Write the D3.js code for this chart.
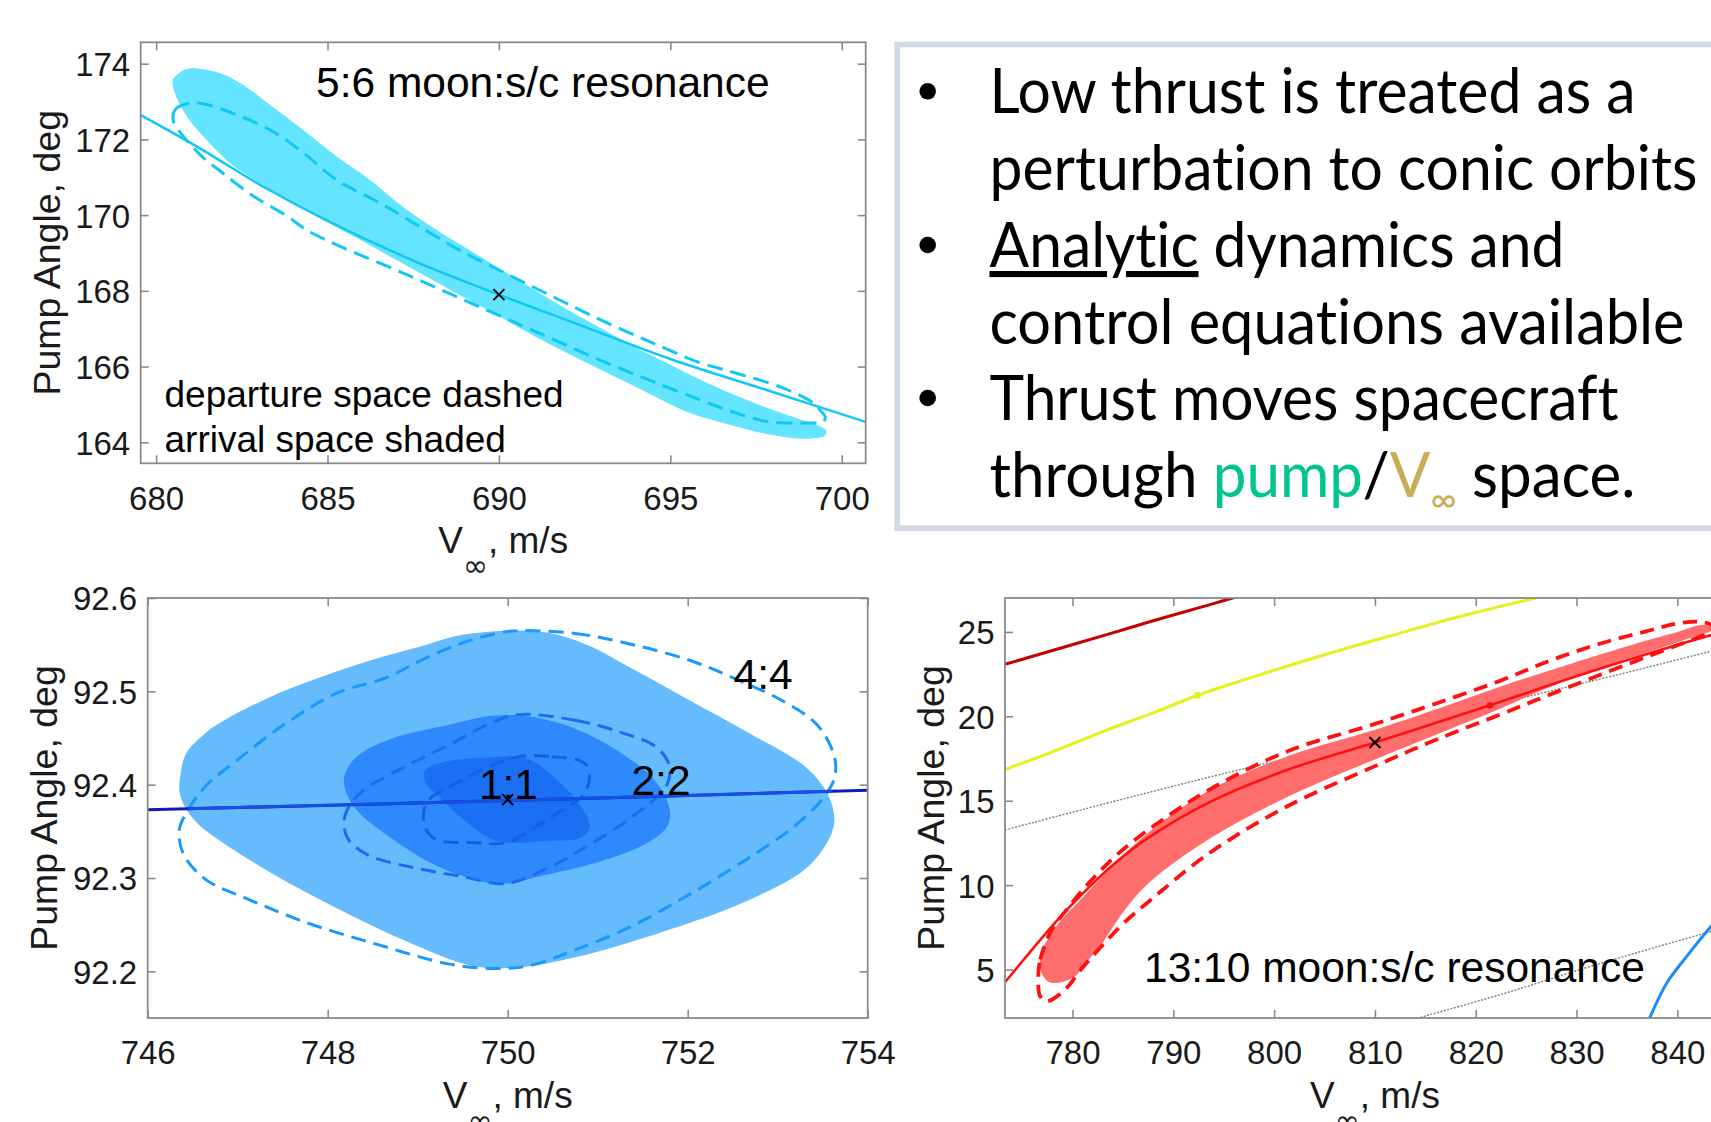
<!DOCTYPE html>
<html>
<head>
<meta charset="utf-8">
<script src="https://cdn.jsdelivr.net/npm/d3@7"></script>
<style>
  html, body { margin: 0; padding: 0; background: #ffffff; overflow: hidden; }
  svg { display: block; }
  #notes text { font-variant-ligatures: none; font-feature-settings: "liga" 0, "clig" 0; }
</style>
</head>
<body>
<svg id="fig" width="1711" height="1122"></svg>
<script>
// ---------------------------------------------------------------------------
// 5:6 moon:s/c resonance  (V-infinity [m/s], pump angle [deg])
// ---------------------------------------------------------------------------
const res56Arrival = [
  [680.49,173.57],[680.75,173.8],[680.99,173.88],[681.87,173.75],[682.54,173.44],
  [683.33,172.91],[684.29,172.25],[685.28,171.54],[686.24,170.93],[687.2,170.22],
  [688.2,169.6],[689.1,169.1],[690,168.6],[691,168.05],[692,167.5],[693,167.0],
  [694,166.5],[695,166.05],[696,165.6],[697,165.2],[698,164.85],[698.8,164.6],
  [699.3,164.45],[699.55,164.3],[699.5,164.17],[699.1,164.1],[698.5,164.12],
  [697.5,164.28],[696.5,164.52],[695.5,164.8],[694,165.46],[693,165.9],[692,166.35],
  [691,166.82],[690,167.33],[689,167.82],[688,168.32],[687,168.82],[686,169.32],
  [685,169.82],[684,170.3],[683.03,170.84],[682.16,171.37],[681.48,171.98],
  [680.9,172.6],[680.55,173.22]
];
const res56Departure = [
  [680.5,172.5],[680.55,172.78],[680.9,172.94],[681.37,172.94],[682.35,172.65],
  [683.33,172.25],[684.3,171.64],[685.27,170.93],[686.53,170.32],[687.5,169.8],
  [688.7,169.15],[690,168.55],[691.5,167.88],[693,167.22],[694.5,166.62],
  [695.87,166.1],[696.83,165.85],[698.3,165.43],[699.17,165.04],[699.37,164.85],
  [699.52,164.67],[699.46,164.54],[699.22,164.51],[698.79,164.51],[697.82,164.55],
  [696.83,164.8],[695.87,165.12],[694.5,165.6],[693,166.15],[691.5,166.75],
  [690,167.35],[688.5,167.95],[687,168.55],[685.3,169.2],[684.4,169.6],
  [683.81,169.98],[682.84,170.5],[681.96,171.1],[681.28,171.6],[680.65,172.25]
];
const res56Nominal = [
  [679.55,172.64],[681.19,171.81],[683.13,170.75],[685,169.85],[687.5,168.8],
  [690,167.9],[692.5,167.05],[695,166.2],[697.81,165.38],[700.7,164.54]
];
const res56Centre = [690, 167.9];
const res56XTicks = [680, 685, 690, 695, 700];
const res56YTicks = [164, 166, 168, 170, 172, 174];

// ---------------------------------------------------------------------------
// 1:1, 2:2 and 4:4 resonances
// ---------------------------------------------------------------------------
const res44Arrival = [
  [746.365,92.411],[746.43,92.434],[746.65,92.456],[746.8,92.466],[747.36,92.494],
  [747.92,92.515],[748.47,92.533],[749.03,92.548],[749.47,92.560],[749.98,92.565],
  [750.43,92.563],[750.88,92.550],[751.39,92.524],[752.03,92.490],[752.67,92.456],
  [753.31,92.419],[753.56,92.389],[753.63,92.362],[753.56,92.340],[753.31,92.310],
  [752.67,92.276],[751.71,92.242],[750.75,92.215],[750.11,92.204],[749.6,92.206],
  [748.83,92.234],[747.87,92.279],[747.04,92.325],[746.52,92.362],[746.36,92.389]
];
const res44Departure = [
  [750.11,92.565],[750.75,92.562],[751.39,92.550],[752.03,92.533],[752.54,92.513],
  [753.05,92.490],[753.44,92.464],[753.63,92.430],[753.63,92.407],[753.5,92.385],
  [753.18,92.355],[752.67,92.321],[752.03,92.283],[751.39,92.249],[750.75,92.223],
  [750.24,92.206],[749.85,92.203],[749.34,92.208],[748.51,92.230],[747.74,92.253],
  [747.1,92.278],[746.65,92.298],[746.4,92.325],[746.35,92.351],[746.43,92.370],
  [746.64,92.398],[746.99,92.426],[747.54,92.466],[748.1,92.498],[748.66,92.515],
  [749.03,92.533],[749.5,92.552],[749.92,92.563]
];
const res22Arrival = [
  [748.19,92.411],[748.32,92.430],[748.70,92.449],[749.34,92.464],[749.85,92.474],
  [750.24,92.473],[750.75,92.460],[751.26,92.434],[751.64,92.404],[751.8,92.373],
  [751.77,92.355],[751.52,92.336],[751.0,92.317],[750.36,92.302],[749.98,92.294],
  [749.72,92.296],[749.21,92.313],[748.70,92.343],[748.32,92.373],[748.19,92.396]
];
const res22Departure = [
  [750.11,92.475],[750.75,92.469],[751.26,92.456],[751.64,92.441],[751.79,92.422],
  [751.77,92.400],[751.39,92.366],[750.88,92.334],[750.43,92.310],[749.98,92.294],
  [749.47,92.302],[748.96,92.311],[748.44,92.325],[748.22,92.343],[748.19,92.366],
  [748.35,92.390],[748.83,92.418],[749.34,92.442],[749.79,92.465]
];
const res11Arrival = [
  [749.08,92.415],[749.28,92.424],[749.79,92.429],[750.11,92.430],[750.30,92.424],
  [750.56,92.404],[750.81,92.377],[750.91,92.355],[750.81,92.343],[750.43,92.340],
  [749.98,92.338],[749.79,92.343],[749.47,92.366],[749.21,92.389],[749.08,92.404]
];
const res11Departure = [
  [750.11,92.430],[750.49,92.430],[750.84,92.424],[750.91,92.411],[750.84,92.389],
  [750.49,92.366],[750.24,92.351],[749.98,92.338],[749.6,92.338],[749.21,92.341],
  [749.08,92.355],[749.1,92.381],[749.4,92.400],[749.79,92.419]
];
// nominal line across the whole window, and the brighter stretch drawn over it
const resNNominal = [[746, 92.373], [750, 92.383], [754, 92.394]];
const resNNominalInner = [[746.45, 92.3742], [750, 92.383], [753.6, 92.3929]];
const resNCentre = [750, 92.384];
const resNLabels = [
  { text: "1:1", at: [749.68, 92.385] },
  { text: "2:2", at: [751.375, 92.389] },
  { text: "4:4", at: [752.51, 92.503] }
];
const resNXTicks = [746, 748, 750, 752, 754];
const resNYTicks = [92.2, 92.3, 92.4, 92.5, 92.6];

// ---------------------------------------------------------------------------
// 13:10 moon:s/c resonance
// ---------------------------------------------------------------------------
const res1310Arrival = [
  [777.94,4.21],[777.2,4.5],[776.75,5.19],[776.9,6.0],[777.44,6.7],[778.76,7.85],
  [780.74,9.1],[783.5,10.85],[787.5,13.1],[793.7,15.65],[801.4,17.65],[810,19.2],
  [816,20.4],[822.4,21.75],[829.6,23.15],[837.3,24.55],[840,25.0],[842.25,25.4],
  [843.4,25.3],[843.3,25.05],[842.25,24.84],[837.3,23.85],[832.3,22.85],[827,21.65],
  [822.4,20.45],[816,18.9],[810,17.45],[801.4,15.25],[793.7,12.8],[787.5,10.1],
  [784.9,8.3],[783.0,6.6],[781.9,5.8],[780.1,4.55]
];
const res1310Departure = [
  [776.6,4.4],[776.8,5.6],[777.94,7.36],[779.42,8.55],[781.5,10.05],[784.5,11.85],
  [788.5,13.7],[794,15.8],[801.4,17.95],[810,19.55],[816,20.75],[822.4,22.1],
  [827.36,23.3],[832.3,24.3],[837.3,25.1],[840,25.5],[842.3,25.6],[843.5,25.35],
  [843.3,25.0],[842.8,24.85],[840.6,24.35],[837.3,23.6],[832.3,22.45],[827.4,21.3],
  [822.4,20.1],[816,18.6],[810,17.05],[801.4,14.7],[793.7,11.95],[787.3,8.9],
  [784.9,7.65],[782.6,6.2],[780.9,5.05],[779.2,3.78],[777.44,3.12],[776.79,3.41]
];
const res1310Nominal = [
  [773.3,4.25],[775.8,6.05],[778.3,7.8],[781,9.5],[784,11.2],[787.5,12.8],
  [793.7,14.95],[801.4,16.85],[810,18.45],[816,19.6],[822.4,20.85],[829.6,22.3],
  [837.3,23.75],[843.3,24.8],[846.7,25.35]
];
const res1310Centre = [810, 18.45];
const darkRedCurve = [[773.3,23.08],[778,23.9],[783.39,24.84],[788,25.66],[793.64,26.62],[797,27.2]];
const yellowCurve = [
  [773.3,16.85],[778,17.9],[783,19.1],[788,20.2],[792.4,21.25],[798,22.35],
  [805,23.65],[812,24.85],[819,26.0],[826.3,27.06],[828,27.3]
];
const yellowDot = [792.4, 21.25];
const redDot = [821.4, 20.65];
const greyUpper = [[773.3,13.27],[785,15.1],[797,16.9],[810,18.7],[822.4,20.75],[835,22.6],[843.35,23.85],[847,24.35]];
const greyLower = [[813.5,2.0],[822.4,3.51],[832,5.3],[843.35,7.26],[847,7.9]];
const blueArc = [[837.1,1.9],[837.28,2.17],[838.95,4.2],[840.93,5.78],[843.35,7.56],[845,8.6],[847,9.7]];
const res1310XTicks = [780, 790, 800, 810, 820, 830, 840];
const res1310YTicks = [5, 10, 15, 20, 25];

// ---------------------------------------------------------------------------
// Bullet text
// ---------------------------------------------------------------------------
const bulletText = [
  "Low thrust is treated as a",
  "perturbation to conic orbits",
  "Analytic dynamics and",
  "control equations available",
  "Thrust moves spacecraft",
  "through pump/V∞ space."
];

// ---------------------------------------------------------------------------
// Drawing
// ---------------------------------------------------------------------------
const svg = d3.select("#fig");
const FONT = "'Liberation Sans', Arial, Helvetica, sans-serif";
const INK = "#1a1a1a";
const AXIS_GREY = "#8a8a8a";
const TICK = 8;
const TICK_FONT = 33;

function buildPanel(id, box, xDomain, yDomain) {
  const x = d3.scaleLinear().domain(xDomain).range([box.left, box.right]);
  const y = d3.scaleLinear().domain(yDomain).range([box.bottom, box.top]);
  const g = svg.append("g").attr("id", id);
  g.append("defs").append("clipPath").attr("id", id + "-clip")
    .append("rect")
    .attr("x", box.left).attr("y", box.top)
    .attr("width", box.right - box.left).attr("height", box.bottom - box.top);
  const plot = g.append("g").attr("clip-path", `url(#${id}-clip)`);
  return { g, plot, x, y, box };
}

function finishPanel(p, xTicks, yTicks, yFormat) {
  const { g, x, y, box } = p;
  const axes = [
    g.append("g").attr("transform", `translate(0,${box.bottom})`)
      .call(d3.axisBottom(x).tickValues(xTicks).tickFormat(d3.format("d")).tickSize(-TICK).tickPadding(23)),
    g.append("g").attr("transform", `translate(0,${box.top})`)
      .call(d3.axisTop(x).tickValues(xTicks).tickFormat("").tickSize(-TICK)),
    g.append("g").attr("transform", `translate(${box.left},0)`)
      .call(d3.axisLeft(y).tickValues(yTicks).tickFormat(yFormat).tickSize(-TICK).tickPadding(0)),
    g.append("g").attr("transform", `translate(${box.right},0)`)
      .call(d3.axisRight(y).tickValues(yTicks).tickFormat("").tickSize(-TICK))
  ];
  axes.forEach(a => {
    a.select(".domain").remove();
    a.attr("font-family", FONT).attr("font-size", TICK_FONT);
    a.selectAll(".tick line").attr("stroke", AXIS_GREY).attr("stroke-width", 1.6);
  });
  axes[0].selectAll(".tick text").attr("fill", INK);
  axes[2].selectAll(".tick text").attr("fill", INK).attr("x", -10.5).attr("dy", "0.36em");
  g.append("rect")
    .attr("x", box.left).attr("y", box.top)
    .attr("width", box.right - box.left).attr("height", box.bottom - box.top)
    .attr("fill", "none").attr("stroke", AXIS_GREY).attr("stroke-width", 1.8);
}

function yTitle(p, xPos) {
  const cy = (p.box.top + p.box.bottom) / 2;
  p.g.append("text")
    .attr("transform", `translate(${xPos},${cy}) rotate(-90)`)
    .attr("text-anchor", "middle")
    .attr("font-family", FONT).attr("font-size", 37.5).attr("fill", INK)
    .text("Pump Angle, deg");
}

function xTitle(p, baseline) {
  const cx = (p.box.left + p.box.right) / 2;
  const t = p.g.append("text")
    .attr("transform", `translate(${cx},${baseline})`)
    .attr("text-anchor", "middle")
    .attr("font-family", FONT).attr("font-size", 37).attr("fill", INK);
  t.append("tspan").text("V");
  t.append("tspan").attr("dy", 23).attr("font-size", 30)
    .attr("font-family", "'DejaVu Sans', sans-serif").text("∞");
  t.append("tspan").attr("dy", -23).text(", m/s");
}

function label(p, txt, xPx, yPx, size) {
  p.g.append("text")
    .attr("x", xPx).attr("y", yPx)
    .attr("font-family", FONT).attr("font-size", size).attr("fill", "#000")
    .text(txt);
}

function marker(p, pt) {
  const cx = p.x(pt[0]), cy = p.y(pt[1]), r = 5.5;
  p.plot.append("path")
    .attr("d", `M${cx - r},${cy - r}L${cx + r},${cy + r}M${cx - r},${cy + r}L${cx + r},${cy - r}`)
    .attr("stroke", "#000").attr("stroke-width", 2).attr("fill", "none");
}

function closedPath(p) {
  return d3.line().x(d => p.x(d[0])).y(d => p.y(d[1])).curve(d3.curveCatmullRomClosed.alpha(0.5));
}
function openPath(p) {
  return d3.line().x(d => p.x(d[0])).y(d => p.y(d[1])).curve(d3.curveCatmullRom.alpha(0.5));
}

// ---- Panel: 5:6 resonance -------------------------------------------------
{
  const p = buildPanel("res56",
    { left: 140.7, top: 42.3, right: 865.7, bottom: 463.3 },
    [679.55, 700.70], [163.445, 174.565]);
  const cyanFill = "#64e4fe", cyanLine = "#0fc8f3";
  p.plot.append("path").attr("d", closedPath(p)(res56Arrival)).attr("fill", cyanFill);
  p.plot.append("path").attr("d", closedPath(p)(res56Departure))
    .attr("fill", "none").attr("stroke", cyanLine).attr("stroke-width", 3)
    .attr("stroke-dasharray", "16,8");
  p.plot.append("path").attr("d", openPath(p)(res56Nominal))
    .attr("fill", "none").attr("stroke", cyanLine).attr("stroke-width", 2.5);
  marker(p, res56Centre);
  finishPanel(p, res56XTicks, res56YTicks, d3.format("d"));
  yTitle(p, 60);
  xTitle(p, 553);
  label(p, "5:6 moon:s/c resonance", 316, 97, 42.5);
  label(p, "departure space dashed", 164.5, 407, 37);
  label(p, "arrival space shaded", 164.5, 451.5, 37);
}

// ---- Panel: 1:1 / 2:2 / 4:4 ------------------------------------------------
{
  const p = buildPanel("resN",
    { left: 147.7, top: 598, right: 867.7, bottom: 1018 },
    [746, 754], [92.15, 92.6]);
  const cp = closedPath(p);
  p.plot.append("path").attr("d", cp(res44Arrival)).attr("fill", "#66bbfd");
  p.plot.append("path").attr("d", cp(res22Arrival)).attr("fill", "#2e89fc");
  p.plot.append("path").attr("d", cp(res11Arrival)).attr("fill", "#1a6ff2");
  p.plot.append("path").attr("d", cp(res44Departure))
    .attr("fill", "none").attr("stroke", "#1a98fb").attr("stroke-width", 3)
    .attr("stroke-dasharray", "15,8");
  p.plot.append("path").attr("d", cp(res22Departure))
    .attr("fill", "none").attr("stroke", "#1c6cf2").attr("stroke-width", 3)
    .attr("stroke-dasharray", "15,8");
  p.plot.append("path").attr("d", cp(res11Departure))
    .attr("fill", "none").attr("stroke", "#175fe6").attr("stroke-width", 3)
    .attr("stroke-dasharray", "15,8");
  p.plot.append("path").attr("d", openPath(p)(resNNominal))
    .attr("fill", "none").attr("stroke", "#0c1cb4").attr("stroke-width", 3);
  p.plot.append("path").attr("d", openPath(p)(resNNominalInner))
    .attr("fill", "none").attr("stroke", "#1650e2").attr("stroke-width", 3);
  marker(p, resNCentre);
  resNLabels.forEach(l => label(p, l.text, p.x(l.at[0]), p.y(l.at[1]), 42.5));
  finishPanel(p, resNXTicks, resNYTicks, d3.format(".1f"));
  yTitle(p, 57);
  xTitle(p, 1107.5);
}

// ---- Panel: 13:10 resonance ------------------------------------------------
{
  const p = buildPanel("res1310",
    { left: 1005, top: 598, right: 1745, bottom: 1018 },
    [773.30, 846.71], [2.13, 27.01]);
  const op = openPath(p), cp = closedPath(p);
  p.plot.append("path").attr("d", op(greyUpper))
    .attr("fill", "none").attr("stroke", "#7d7d7d").attr("stroke-width", 1.4).attr("stroke-dasharray", "2,1.5");
  p.plot.append("path").attr("d", op(greyLower))
    .attr("fill", "none").attr("stroke", "#7d7d7d").attr("stroke-width", 1.4).attr("stroke-dasharray", "2,1.5");
  p.plot.append("path").attr("d", op(darkRedCurve))
    .attr("fill", "none").attr("stroke", "#c40000").attr("stroke-width", 3);
  p.plot.append("path").attr("d", op(yellowCurve))
    .attr("fill", "none").attr("stroke", "#e6f01c").attr("stroke-width", 3);
  p.plot.append("circle").attr("cx", p.x(yellowDot[0])).attr("cy", p.y(yellowDot[1]))
    .attr("r", 3.5).attr("fill", "#e6f01c");
  p.plot.append("path").attr("d", op(blueArc))
    .attr("fill", "none").attr("stroke", "#1a8cfa").attr("stroke-width", 3);
  p.plot.append("path").attr("d", cp(res1310Arrival)).attr("fill", "#ff6d6d");
  p.plot.append("path").attr("d", cp(res1310Departure))
    .attr("fill", "none").attr("stroke", "#ff1111").attr("stroke-width", 3.8)
    .attr("stroke-dasharray", "14,8");
  p.plot.append("path").attr("d", op(res1310Nominal))
    .attr("fill", "none").attr("stroke", "#ff1111").attr("stroke-width", 2.6);
  p.plot.append("circle").attr("cx", p.x(redDot[0])).attr("cy", p.y(redDot[1]))
    .attr("r", 3.2).attr("fill", "#ee1111");
  marker(p, res1310Centre);
  finishPanel(p, res1310XTicks, res1310YTicks, d3.format("d"));
  yTitle(p, 944);
  xTitle(p, 1107.5);
  label(p, "13:10 moon:s/c resonance", 1144, 982, 42.5);
}

// ---- Bullet box -------------------------------------------------------------
{
  const box = svg.append("g").attr("id", "notes");
  box.append("rect")
    .attr("x", 897.2).attr("y", 44.5).attr("width", 1000).attr("height", 483.7)
    .attr("fill", "#ffffff").attr("stroke", "#d0d9e5").attr("stroke-width", 5.6);

  const baselines = [113.3, 190, 267, 343.5, 420, 497];
  const lineWidths = [646, 708, 575, 695, 629, 646];
  const bulletRows = [0, 2, 4];
  const textX = 989.5;
  const BODY = "Lato, 'Open Sans', 'Noto Sans', sans-serif";

  bulletRows.forEach(i => {
    box.append("circle").attr("cx", 927.7).attr("cy", baselines[i] - 22)
      .attr("r", 8.3).attr("fill", "#000");
  });

  bulletText.forEach((line, i) => {
    const t = box.append("text")
      .attr("x", textX).attr("y", baselines[i])
      .attr("font-family", BODY).attr("font-size", 61).attr("fill", "#000")
      .attr("textLength", lineWidths[i]).attr("lengthAdjust", "spacingAndGlyphs");
    if (i === 2) {
      const first = line.split(" ")[0];
      t.append("tspan").attr("text-decoration", "underline").text(first);
      t.append("tspan").text(line.slice(first.length));
    } else if (i === 5) {
      const [head, rest] = line.split("pump/V∞");
      t.append("tspan").text(head);
      t.append("tspan").attr("fill", "#00c68e").text("pump");
      t.append("tspan").text("/");
      t.append("tspan").attr("fill", "#c9ad55").text("V");
      t.append("tspan").attr("fill", "#c9ad55").attr("font-size", 36).attr("dy", 15).text("∞");
      t.append("tspan").attr("dy", -15).text(rest);
    } else {
      t.text(line);
    }
  });
}
</script>
</body>
</html>
